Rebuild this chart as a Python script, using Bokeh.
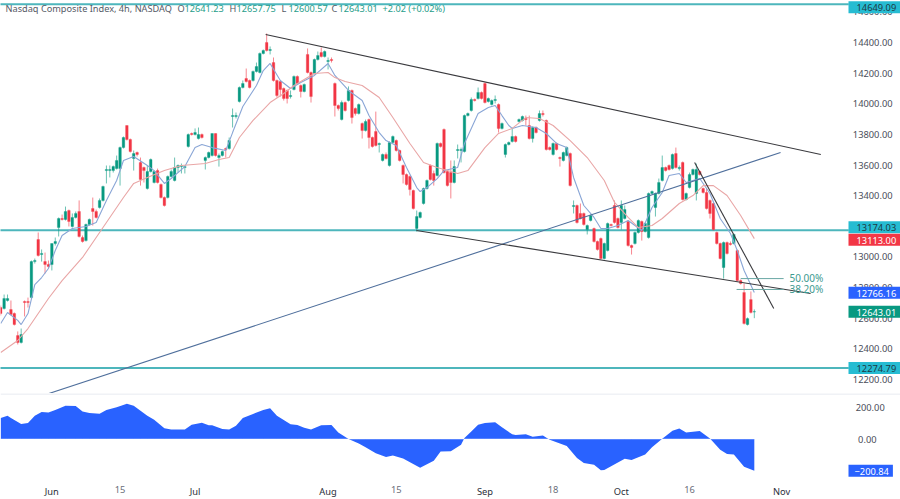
from bokeh.embed import file_html
from bokeh.layouts import column
from bokeh.models import ColumnDataSource, FixedTicker, Label, LinearAxis, Range1d, Span
from bokeh.plotting import figure
from bokeh.resources import INLINE

# ---- candles (4h bars)
opens = [
12670,12664,12716,12657,12631,12487,12442,12709,12709,12735,
12970,13114,13016,12970,12951,12951,13088,13192,13251,13245,
13303,13199,13258,13297,13127,13107,13212,13316,13297,13323,
13369,13564,13564,13564,13577,13577,13714,13858,13767,13643,
13682,13617,13584,13447,13558,13486,13564,13473,13388,13388,
13525,13499,13584,13590,13584,13721,13806,13799,13773,13799,
13630,13649,13662,13806,13649,13662,13708,13708,13917,13917,
14015,14106,14165,14152,14152,14211,14204,14328,14400,14348,
14269,14152,14145,14100,14087,14047,14093,14178,14119,14080,
14322,14204,14198,14289,14335,14308,14276,14289,14132,13989,
13897,14008,14021,14087,13969,13936,13871,13825,13897,13780,
13819,13734,13630,13669,13597,13747,13760,13695,13597,13538,
13525,13434,13186,13258,13349,13447,13597,13545,13532,13741,
13832,13558,13551,13486,13695,13695,13688,13923,13956,14028,
14034,14074,14132,14015,13995,14021,13995,13839,13669,13734,
13754,13786,13884,13891,13904,13858,13773,13845,13891,13936,
13891,13714,13669,13741,13649,13630,13662,13675,13329,13336,
13284,13284,13179,13238,13186,13101,13120,12990,13042,13212,
13336,13251,13225,13251,13232,13075,13088,13160,13232,13166,
13127,13414,13323,13414,13499,13584,13597,13577,13675,13577,
13617,13375,13453,13538,13414,13558,13447,13421,13369,13349,
13160,13088,12931,13094,13088,13088,13042,12846,12768,12559,
12722,12641,
]
highs = [
12683,12755,12755,12716,12638,12514,12533,12716,12735,12977,
12990,13160,13049,13029,12977,13088,13127,13258,13277,13329,
13310,13284,13297,13369,13140,13218,13251,13388,13310,13382,
13466,13597,13597,13597,13662,13721,13786,13858,13773,13695,
13688,13649,13590,13597,13643,13564,13577,13480,13395,13532,
13571,13649,13604,13610,13597,13806,13812,13839,13845,13806,
13656,13688,13806,13806,13675,13695,13714,13780,13969,13943,
14113,14152,14230,14158,14217,14269,14335,14354,14459,14374,
14302,14158,14152,14106,14093,14087,14185,14185,14126,14132,
14361,14211,14295,14341,14367,14348,14302,14302,14139,13995,
14021,14015,14113,14093,13976,14002,13878,13897,13904,13786,
13949,13747,13675,13682,13754,13793,13767,13701,13604,13545,
13532,13440,13303,13297,13453,13506,13604,13564,13747,13747,
13839,13564,13630,13630,13734,13714,13930,13943,14041,14034,
14106,14080,14139,14041,14028,14054,14002,13878,13741,13754,
13845,13793,13904,13923,13923,13923,13852,13852,13956,13956,
13897,13721,13747,13747,13656,13688,13721,13682,13369,13342,
13349,13290,13212,13277,13192,13107,13127,13094,13225,13218,
13369,13258,13369,13336,13238,13081,13166,13245,13238,13225,
13421,13434,13421,13512,13662,13590,13604,13675,13714,13597,
13623,13421,13551,13577,13610,13564,13453,13447,13375,13356,
13166,13094,13101,13101,13101,13153,13049,12853,12827,12605,
12775,12657.75,
]
lows = [
12618,12657,12709,12618,12553,12429,12435,12612,12670,12729,
12957,13003,12970,12892,12925,12912,13075,13134,13238,13238,
13199,13192,13251,13127,13094,13101,13205,13205,13251,13316,
13362,13480,13519,13551,13571,13466,13708,13760,13682,13564,
13656,13466,13486,13440,13551,13480,13480,13382,13329,13382,
13519,13493,13551,13545,13545,13714,13793,13793,13767,13773,
13571,13643,13656,13656,13590,13656,13649,13701,13845,13904,
14008,14100,14139,14100,14145,14204,14198,14322,14341,14322,
14145,14041,14047,14021,14002,14034,14087,14126,14041,14074,
14198,14008,14191,14282,14302,14302,14224,14269,13917,13956,
13891,13949,14015,13871,13923,13930,13773,13819,13708,13714,
13721,13682,13623,13636,13590,13741,13688,13623,13480,13466,
13401,13310,13166,13251,13342,13440,13499,13466,13525,13714,
13545,13460,13382,13480,13643,13617,13682,13917,13949,14015,
14028,14028,14002,14008,13989,14002,13812,13832,13649,13728,
13747,13747,13878,13884,13858,13767,13747,13806,13884,13917,
13695,13695,13662,13695,13590,13623,13656,13460,13284,13218,
13245,13205,13147,13232,13094,13042,12984,12984,13036,13199,
13218,13186,13179,13245,13068,13016,13081,13153,13107,13160,
13120,13408,13264,13408,13493,13558,13564,13571,13577,13564,
13369,13369,13447,13532,13369,13532,13414,13310,13251,13173,
13081,12984,12859,13016,13075,13081,12840,12820,12559,12553,
12631,12600.57,
]
closes = [
12631,12729,12729,12625,12559,12442,12494,12703,12703,12970,
12977,13010,13023,12951,12938,13088,13101,13251,13245,13297,
13232,13258,13284,13134,13101,13212,13245,13297,13258,13369,
13460,13571,13571,13590,13630,13714,13780,13767,13688,13675,
13669,13506,13564,13558,13636,13558,13486,13388,13336,13525,
13558,13584,13597,13597,13590,13799,13799,13812,13799,13780,
13649,13682,13806,13662,13662,13688,13701,13760,13923,13923,
14106,14132,14145,14106,14211,14243,14328,14348,14348,14354,
14152,14054,14093,14034,14034,14054,14178,14132,14080,14126,
14204,14047,14289,14315,14308,14341,14282,14282,13989,13969,
14008,13956,14087,13910,13936,13995,13825,13884,13780,13721,
13728,13741,13669,13643,13747,13786,13695,13630,13538,13473,
13440,13316,13264,13290,13447,13499,13506,13499,13741,13721,
13551,13466,13486,13590,13701,13701,13923,13936,14028,14021,
14074,14034,14008,14034,14021,14028,13839,13871,13734,13747,
13786,13754,13897,13917,13897,13773,13845,13812,13936,13930,
13701,13701,13741,13701,13643,13682,13714,13466,13336,13225,
13251,13212,13205,13271,13101,13049,12990,13088,13218,13205,
13225,13192,13336,13310,13075,13062,13160,13238,13166,13218,
13414,13427,13414,13486,13584,13564,13571,13669,13584,13584,
13375,13414,13538,13571,13571,13538,13421,13316,13284,13179,
13088,12990,13094,13023,13081,13147,12846,12827,12566,12598,
12638,12643.01,
]

# ---- moving averages: bar index and level
fast_idx = [0,2,5,6,8,10,12,14,16,18,21,25,28,31,34,36,39,43,45,48,50,54,57,59,62,66,68,71,75,77,79,82,85,88,92,96,98,102,106,108,111,113,116,119,122,123,125,128,130,134,136,140,143,145,147,149,150,153,157,160,163,166,168,171,174,176,178,181,184,188,191,194,196,199,201,205,208,211,214,216,218,221]
fast_ma = [12566,12638,12586,12559,12631,12820,12866,12925,13042,13140,13186,13199,13225,13369,13499,13630,13656,13597,13564,13480,13512,13590,13714,13734,13714,13695,13812,13982,14119,14217,14263,14152,14100,14139,14185,14263,14185,14087,14021,13923,13812,13760,13728,13584,13453,13427,13453,13512,13564,13584,13741,13936,13976,13989,13923,13858,13839,13858,13845,13806,13741,13714,13519,13336,13258,13186,13186,13205,13238,13173,13323,13421,13532,13545,13486,13512,13414,13251,13153,13042,12912,12768]
slow_idx = [0,5,8,14,18,24,29,34,36,39,43,48,53,60,64,67,70,74,79,83,86,92,96,98,101,106,111,115,120,124,128,134,137,142,146,150,154,158,162,167,172,177,180,184,187,191,194,199,203,206,209,213,217,221]
slow_ma = [12377,12455,12533,12729,12846,12997,13160,13323,13388,13480,13519,13564,13597,13610,13636,13649,13780,13891,14008,14067,14119,14198,14204,14171,14145,14119,14041,13910,13741,13617,13584,13545,13564,13714,13806,13839,13910,13904,13858,13760,13649,13499,13356,13258,13192,13205,13251,13349,13401,13466,13466,13401,13271,13120]

# ---- oscillator
osc_idx = [0,2,3,6,8,10,12,14,16,19,22,24,26,29,31,34,37,39,41,43,45,48,50,54,56,59,61,62,65,67,69,71,74,77,79,81,85,87,89,91,94,97,99,102,105,107,110,113,115,118,123,127,129,132,135,136,138,140,142,145,147,150,151,154,156,159,161,166,169,171,174,176,177,183,185,189,191,194,197,199,201,205,208,211,213,215,218,221]
osc_val = [133,148,133,95,102,148,171,169,184,212,209,174,165,161,184,201,224,212,180,148,123,68,61,61,91,104,87,87,63,61,85,133,159,184,195,148,93,89,72,61,87,89,42,0,-28,-53,-91,-114,-104,-123,-182,-138,-80,-78,-36,6,47,91,102,106,74,30,25,30,15,23,-4,-44,-121,-152,-163,-199,-197,-125,-133,-99,-53,2,53,66,42,51,4,-68,-95,-99,-176,-200.84]

# ---- drawn levels and trend lines
levels = [14649.09, 13174.03, 12274.79]
trend_upper_x, trend_upper_y = [77.7, 240.5], [14452, 13669]
trend_lower_x, trend_lower_y = [121.9, 237.5], [13173, 12762]
trend_long_x, trend_long_y = [13.2, 228.7], [12102, 13682]
trend_steep_x, trend_steep_y = [203.5, 226.7], [13617, 12664]
fib_50_x, fib_50_y = [217.0, 229.6], [12859, 12859]
fib_38_x, fib_38_y = [215.8, 229.6], [12788, 12788]

price_ticks = [12200,12400,12600,12800,13000,13200,13400,13600,13800,14000,14200,14400,14600]
month_ticks = {15:"Jun", 57:"Jul", 96:"Aug", 142:"Sep", 182:"Oct", 229:"Nov"}
day_ticks = {35:"15", 116:"15", 162:"18", 202:"16"}

FONT = "Noto Sans"
GREEN, RED, TEAL, BLUE = "#089981", "#F23645", "#4DB6BC", "#2962FF"
CYAN, CYAN_INK = "#26BCD2", "#1d3a44"
INK = "#4a4e5a"
AXIS_SIZE = "9.3px"
AXIS_X = 263.3       # where the right-hand scale sits, in bar units
OSC_200_X = 261.0    # right edge of the oscillator's "200.00"
OSC_0_X = 258.6      # right edge of the oscillator's "0.00"
PANE_END = 248.7     # last bar slot of the chart pane
MONTH_Y = -251       # oscillator level of the month axis
DAY_Y = -321         # oscillator level of the day labels

def quiet(a, color=INK):
    a.major_tick_line_color = None
    a.minor_tick_line_color = None
    a.axis_line_color = None
    a.major_label_text_font = FONT
    a.major_label_text_font_size = AXIS_SIZE
    a.major_label_text_color = color

xr = Range1d(-0.06, 263.87)
p = figure(width=900, height=393, x_range=xr, y_range=Range1d(12109, 14674),
           output_backend="svg", toolbar_location=None, x_axis_location=None,
           y_axis_location=None, min_border_left=0, min_border_right=0,
           min_border_top=0, min_border_bottom=0)
p.outline_line_color = None
p.grid.visible = False
ax = LinearAxis(fixed_location=AXIS_X, ticker=FixedTicker(ticks=price_ticks),
                major_label_overrides={t: f"{t}.00" for t in price_ticks}, major_label_standoff=0)
quiet(ax)
p.add_layout(ax, "left")

idx = list(range(len(closes)))
ups = [c >= o for o, c in zip(opens, closes)]
src = ColumnDataSource(dict(
    x=idx, o=opens, h=highs, l=lows, c=closes,
    top=[max(a, b) for a, b in zip(opens, closes)],
    bot=[min(a, b) for a, b in zip(opens, closes)],
    col=[GREEN if u else RED for u in ups]))

for lv in levels:
    p.segment(x0=[-1], y0=[lv], x1=[PANE_END], y1=[lv], line_color=TEAL, line_width=2)
p.segment("x", "l", "x", "h", source=src, line_color="col", line_alpha=0.6, line_width=1)
p.vbar("x", 0.76, "bot", "top", source=src, fill_color="col", line_color="col", line_width=0.3)

p.line(fast_idx, fast_ma, line_color="#8AA6D6", line_width=1.1)
p.line(slow_idx, slow_ma, line_color="#E9A6A6", line_width=1.1)
p.line(trend_long_x, trend_long_y, line_color="#4F6F9C", line_width=1.1)
for tx, ty in ((trend_upper_x, trend_upper_y), (trend_lower_x, trend_lower_y), (trend_steep_x, trend_steep_y)):
    p.line(tx, ty, line_color="#3a3a3e", line_width=1.1)
p.line(fib_50_x, fib_50_y, line_color="#6AA8A4", line_width=1)
p.line(fib_38_x, fib_38_y, line_color="#6AA8A4", line_width=1)

def txt(fig, text, x, y, color, size="9.2px", **kw):
    fig.add_layout(Label(x=x, y=y, x_units="screen", text=text, text_color=color,
                         text_font=FONT, text_font_size=size, text_baseline="middle", **kw))

top_y = 14622
txt(p, "Nasdaq Composite Index, 4h, NASDAQ", 5, top_y, "#555a66")
for letter, val, x in (("O", "12641.23", 177), ("H", "12657.75", 229), ("L", "12600.57", 281), ("C", "12643.01", 331)):
    txt(p, letter, x, top_y, "#555a66")
    txt(p, val, x + 7, top_y, "#1f9d8a")
txt(p, "+2.02 (+0.02%)", 382, top_y, "#1f9d8a")
txt(p, "50.00%", 789, 12866, "#3d9a8f", size="10px")
txt(p, "38.20%", 789, 12788, "#3d9a8f", size="10px")

def tag(fig, text, y, bg, color="#ffffff", offset=0):
    fig.add_layout(Label(x=848, y=y, x_units="screen", y_offset=offset, text=text, text_color=color,
                         text_font=FONT, text_font_size=AXIS_SIZE, text_baseline="middle",
                         background_fill_color=bg, padding=(8, 5, 3, 2)))

tag(p, "14649.09", 14649.09, CYAN, CYAN_INK, offset=-3)
tag(p, "13174.03", 13174.03, CYAN, CYAN_INK, offset=3)
tag(p, "13113.00", 13113, RED)
tag(p, "12766.16", 12766.16, BLUE)
tag(p, "12643.01", 12643.01, GREEN)
tag(p, "12274.79", 12274.79, CYAN, CYAN_INK)

q = figure(width=900, height=106, x_range=xr, y_range=Range1d(-384, 289),
           output_backend="svg", toolbar_location=None, x_axis_location=None,
           y_axis_location=None, min_border_left=0, min_border_right=0,
           min_border_top=0, min_border_bottom=0)
q.outline_line_color = None
q.grid.visible = False
q.add_layout(Span(location=286, dimension="width", line_color="#E0E3EB", line_width=1))
q.varea(osc_idx, [0] * len(osc_idx), osc_val, fill_color=BLUE)
q.line(osc_idx, [0] * len(osc_idx), line_color="#ffffff", line_alpha=0.45, line_width=1)
for tick, where in ((200, OSC_200_X), (0, OSC_0_X)):
    qy = LinearAxis(fixed_location=where, ticker=FixedTicker(ticks=[tick]),
                    major_label_overrides={tick: f"{tick}.00"}, major_label_standoff=0)
    quiet(qy)
    q.add_layout(qy, "left")
qx = LinearAxis(fixed_location=MONTH_Y, ticker=FixedTicker(ticks=list(month_ticks)),
                major_label_overrides=month_ticks, major_label_standoff=0)
quiet(qx, "#2a2e39")
q.add_layout(qx, "below")
for t, s in day_ticks.items():
    q.add_layout(Label(x=t, y=DAY_Y, text=s, text_align="center", text_color="#6a6e7a",
                       text_font=FONT, text_font_size=AXIS_SIZE, text_baseline="middle"))
q.add_layout(Label(x=848, y=-200.84, x_units="screen", text="\u2212200.84", text_color="#ffffff",
                   text_font=FONT, text_font_size=AXIS_SIZE, text_baseline="middle",
                   background_fill_color=BLUE, padding=(6, 4, 3, 2)))

page = column(p, q, spacing=0)
page.styles = {"position": "absolute", "left": "0px", "top": "0px"}
open("out.html", "w").write(file_html(page, INLINE))
